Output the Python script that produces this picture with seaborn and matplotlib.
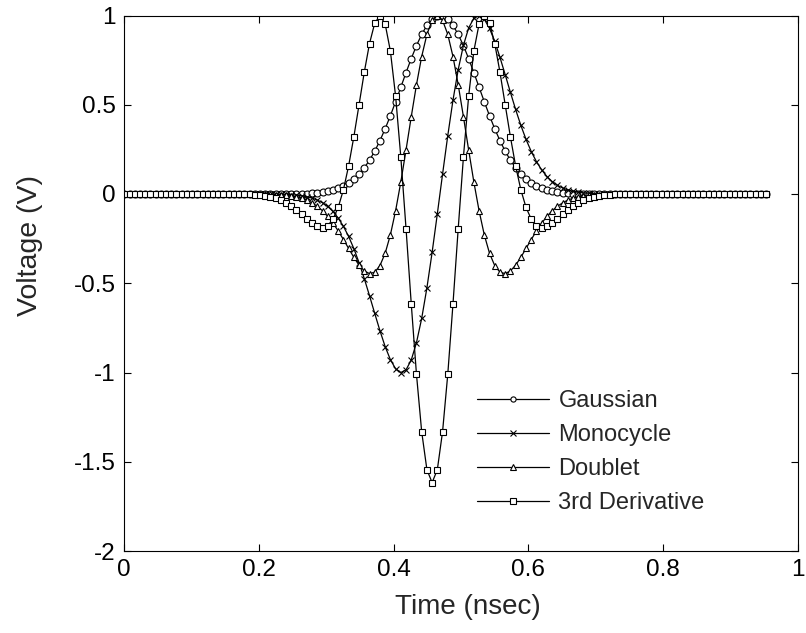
import matplotlib
matplotlib.use("Agg")
import matplotlib.pyplot as plt
from matplotlib.ticker import FuncFormatter
import numpy as np
import pandas as pd
import seaborn as sns

# sample spacing of the pulse waveforms (ns)
dt = 0.00775

pulse_names = ["Gaussian", "Monocycle", "Doublet", "3rd Derivative"]
pulse_markers = ["o", "x", "^", "s"]

gaussian = [
    0, 0, 0, 0, 0, 0, 0, 0, 0, 0,
    0, 0, 0, 0, 0, 0, 0, 0, 0, 0,
    0, 0, 0, 0, 0, 0, 0, 0, 0, 0,
    0.0, 0.0004, 0.0006, 0.001, 0.0016, 0.0026, 0.0042, 0.0065, 0.0098, 0.0147,
    0.0216, 0.0311, 0.0439, 0.061, 0.0833, 0.1115, 0.1466, 0.1894, 0.2401, 0.299,
    0.3654, 0.4386, 0.517, 0.5984, 0.6799, 0.7587, 0.8312, 0.8942, 0.9445, 0.9797,
    0.9977, 0.9977, 0.9797, 0.9445, 0.8942, 0.8312, 0.7587, 0.6799, 0.5984, 0.517,
    0.4386, 0.3654, 0.299, 0.2401, 0.1894, 0.1466, 0.1115, 0.0833, 0.061, 0.0439,
    0.0311, 0.0216, 0.0147, 0.0098, 0.0065, 0.0042, 0.0026, 0.0016, 0.001, 0.0006,
    0.0004, 0, 0, 0, 0, 0, 0, 0, 0, 0,
    0, 0, 0, 0, 0, 0, 0, 0, 0, 0,
    0, 0, 0, 0, 0, 0, 0, 0, 0, 0,
    0, 0, 0, 0,
]

monocycle = [
    0, 0, 0, 0, 0, 0, 0, 0, 0, 0,
    0, 0, 0, 0, 0, 0, 0, 0, 0, 0,
    0, 0, 0, 0, 0, 0, 0, 0, 0, 0,
    -0.001, -0.002, -0.004, -0.006, -0.010, -0.015, -0.023, -0.034, -0.049, -0.070,
    -0.098, -0.135, -0.181, -0.238, -0.306, -0.385, -0.474, -0.570, -0.669, -0.766,
    -0.855, -0.928, -0.979, -1.0, -0.985, -0.930, -0.833, -0.697, -0.526, -0.327,
    -0.111, 0.111, 0.327, 0.526, 0.697, 0.833, 0.930, 0.985, 1.0, 0.979,
    0.928, 0.855, 0.766, 0.669, 0.570, 0.474, 0.385, 0.306, 0.238, 0.181,
    0.135, 0.098, 0.070, 0.049, 0.034, 0.023, 0.015, 0.010, 0.006, 0.004,
    0.002, 0.001, 0, 0, 0, 0, 0, 0, 0, 0,
    0, 0, 0, 0, 0, 0, 0, 0, 0, 0,
    0, 0, 0, 0, 0, 0, 0, 0, 0, 0,
    0, 0, 0, 0,
]

doublet = [
    0, 0, 0, 0, 0, 0, 0, 0, 0, 0,
    0, 0, 0, 0, 0, 0, 0, 0, 0, 0,
    0, 0, 0, 0, 0, 0, 0, 0, -0.002, -0.003,
    -0.004, -0.007, -0.011, -0.016, -0.024, -0.034, -0.050, -0.069, -0.094, -0.126,
    -0.163, -0.207, -0.255, -0.305, -0.355, -0.399, -0.431, -0.446, -0.438, -0.401,
    -0.332, -0.229, -0.094, 0.067, 0.247, 0.433, 0.612, 0.770, 0.894, 0.973,
    1.0, 0.973, 0.894, 0.770, 0.612, 0.433, 0.247, 0.067, -0.094, -0.229,
    -0.332, -0.401, -0.438, -0.446, -0.431, -0.399, -0.355, -0.305, -0.255, -0.207,
    -0.163, -0.126, -0.094, -0.069, -0.050, -0.034, -0.024, -0.016, -0.011, -0.007,
    -0.004, -0.003, -0.002, 0, 0, 0, 0, 0, 0, 0,
    0, 0, 0, 0, 0, 0, 0, 0, 0, 0,
    0, 0, 0, 0, 0, 0, 0, 0, 0, 0,
    0, 0, 0, 0,
]

third_deriv = [
    0, 0, 0, 0, 0, 0, 0, 0, 0, 0,
    0, 0, 0, 0, 0, 0, 0, 0, 0, 0,
    0, 0, 0, -0.001, -0.002, -0.004, -0.007, -0.011, -0.016, -0.024,
    -0.035, -0.050, -0.068, -0.089, -0.114, -0.140, -0.163, -0.181, -0.188, -0.177,
    -0.141, -0.075, 0.024, 0.158, 0.321, 0.501, 0.683, 0.843, 0.957, 1.0,
    0.952, 0.801, 0.548, 0.207, -0.194, -0.615, -1.010, -1.332, -1.544, -1.617,
    -1.544, -1.332, -1.010, -0.615, -0.194, 0.207, 0.548, 0.801, 0.952, 1.0,
    0.957, 0.843, 0.683, 0.501, 0.321, 0.158, 0.024, -0.075, -0.141, -0.177,
    -0.188, -0.181, -0.163, -0.140, -0.114, -0.089, -0.068, -0.050, -0.035, -0.024,
    -0.016, -0.011, -0.007, -0.004, -0.002, -0.001, 0, 0, 0, 0,
    0, 0, 0, 0, 0, 0, 0, 0, 0, 0,
    0, 0, 0, 0, 0, 0, 0, 0, 0, 0,
    0, 0, 0, 0,
]

x_ticks = [0, 0.2, 0.4, 0.6, 0.8, 1]
y_ticks = [-2, -1.5, -1, -0.5, 0, 0.5, 1]


def main():
    time = np.arange(len(gaussian)) * dt
    series = [gaussian, monocycle, doublet, third_deriv]
    df = pd.concat(
        [pd.DataFrame({"time": time, "voltage": v, "pulse": name})
         for name, v in zip(pulse_names, series)],
        ignore_index=True,
    )

    sns.set_style("ticks")
    plt.rcParams["font.family"] = ["Liberation Sans", "DejaVu Sans"]
    plt.rcParams["axes.unicode_minus"] = False

    fig = plt.figure(figsize=(8.06, 6.33), dpi=100)
    ax = fig.add_axes([124.3 / 806, 1 - 551 / 633, 673.2 / 806, 535.5 / 633])

    # seaborn won't mix filled and line-art markers in one call -> one call per pulse
    for name, mk in zip(pulse_names, pulse_markers):
        sub = df[df["pulse"] == name]
        sns.lineplot(
            data=sub, x="time", y="voltage",
            color="black", marker=mk,
            estimator=None, sort=False, legend=False,
            linewidth=0.9, markersize=5,
            markerfacecolor="white", markeredgecolor="black", markeredgewidth=0.8,
            label=name, ax=ax,
        )

    ax.set_xlim(0, 1)
    ax.set_ylim(-2, 1)
    ax.set_xticks(x_ticks)
    ax.set_yticks(y_ticks)
    fmt = FuncFormatter(lambda v, p: f"{v:g}")
    ax.xaxis.set_major_formatter(fmt)
    ax.yaxis.set_major_formatter(fmt)
    ax.tick_params(direction="in", top=True, right=True, length=5, width=0.8,
                   labelsize=17.5, pad=6, colors="black")
    for sp in ax.spines.values():
        sp.set_linewidth(0.8)
        sp.set_color("black")

    ax.set_xlabel("Time (nsec)", fontsize=20, va="center")
    ax.set_ylabel("Voltage (V)", fontsize=20.5, va="center")
    ax.xaxis.set_label_coords(468 / 806, 1 - 607 / 633, transform=fig.transFigure)
    ax.yaxis.set_label_coords(30 / 806, 1 - 246 / 633, transform=fig.transFigure)

    by_marker = {ln.get_marker(): ln for ln in ax.lines}
    handles = [by_marker[m] for m in pulse_markers]
    ax.legend(handles, pulse_names, loc="upper left",
              bbox_to_anchor=(477 / 806, 1 - 390 / 633),
              bbox_transform=fig.transFigure, frameon=False,
              fontsize=17, handlelength=3.03, handletextpad=0.42,
              labelspacing=0.51, borderpad=0, borderaxespad=0,
              numpoints=1, markerscale=0.75)

    fig.savefig("out.png", dpi=100)
    print("saved out.png")


if __name__ == "__main__":
    main()
